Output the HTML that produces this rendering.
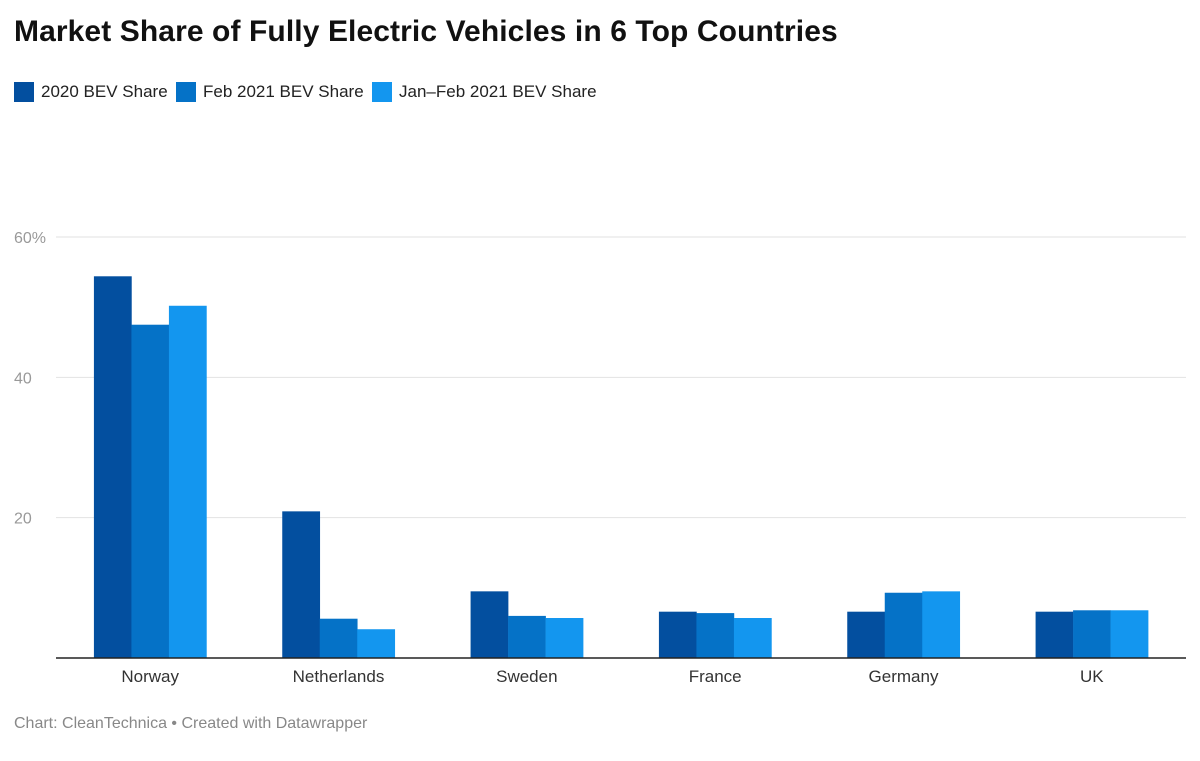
<!DOCTYPE html>
<html><head><meta charset="utf-8"><style>
body{margin:0;background:#fff;font-family:"Liberation Sans",Arial,sans-serif;}
#wrap{position:relative;width:1200px;height:761px;overflow:hidden;}
h1{position:absolute;left:14px;top:15px;margin:0;font-size:30px;font-weight:bold;color:#111;letter-spacing:0.1px;}
.leg{position:absolute;top:82px;font-size:17px;color:#222;display:flex;align-items:center;}
.leg i{display:inline-block;width:20px;height:20px;margin-right:7px;}
.foot{position:absolute;left:14px;top:715px;font-size:16px;color:#888;}
</style></head><body>
<div id="wrap">
<h1>Market Share of Fully Electric Vehicles in 6 Top Countries</h1>
<div class="leg" style="left:14px"><i style="background:#034f9f"></i>2020 BEV Share</div>
<div class="leg" style="left:176px"><i style="background:#0572c7"></i>Feb 2021 BEV Share</div>
<div class="leg" style="left:372px"><i style="background:#1396ef"></i>Jan–Feb 2021 BEV Share</div>
<svg id="svg" width="1200" height="761" style="position:absolute;left:0;top:0"></svg>
<div class="foot">Chart: CleanTechnica • Created with Datawrapper</div>
</div>
<script>
const categories=["Norway","Netherlands","Sweden","France","Germany","UK"];
const s2020=[54.4,20.9,9.5,6.6,6.6,6.6];
const sFeb2021=[47.5,5.6,6.0,6.4,9.3,6.8];
const sJanFeb2021=[50.2,4.1,5.7,5.7,9.5,6.8];
const yTicks=[20,40,60];
const yTickLabels=["20","40","60%"];
const seriesNames=["2020","feb-2021","jan-feb-2021"];
const colors=["#034f9f","#0572c7","#1396ef"];
const svg=document.getElementById('svg');
const NS="http://www.w3.org/2000/svg";
const x0=56,x1=1186,y0=658,yTop=237;
const y=v=>y0-(v/60)*(y0-yTop);
const band=(x1-x0)/categories.length;
const bw=37.5;
function mk(t,a){const e=document.createElementNS(NS,t);for(const k in a)e.setAttribute(k,a[k]);svg.appendChild(e);return e;}
yTicks.forEach((t,i)=>{
 const l=mk('line',{x1:x0,x2:x1,y1:y(t),y2:y(t),stroke:'#e2e2e2','stroke-width':1});
 
 
 const tx=mk('text',{x:14,y:y(t)+6,'font-size':16,fill:'#999','font-family':'Liberation Sans, sans-serif'});
 tx.textContent=yTickLabels[i];
 
 
});
[s2020,sFeb2021,sJanFeb2021].forEach((s,si)=>{
 s.forEach((v,ci)=>{
  const cx=x0+band*(ci+0.5);
  const r=mk('rect',{x:cx-1.5*bw+si*bw,y:y(v),width:bw+0.3,height:y0-y(v),fill:colors[si]});
  
  
 });
});
const base=mk('line',{x1:x0,x2:x1,y1:y0,y2:y0,stroke:'#222','stroke-width':1.5});


categories.forEach((c,ci)=>{
 const t=mk('text',{x:x0+band*(ci+0.5),y:682,'font-size':17,fill:'#333','text-anchor':'middle','font-family':'Liberation Sans, sans-serif'});
 t.textContent=c;
 
 
});
</script>
</body></html>
